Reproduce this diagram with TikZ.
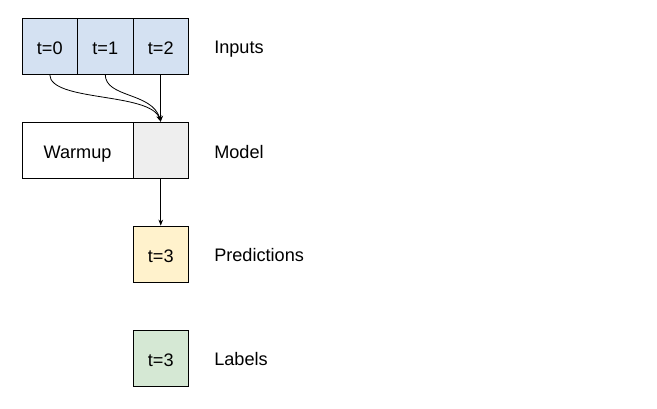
\documentclass[tikz,border=0pt]{standalone}
\usepackage{fontspec}
\setmainfont{Liberation Sans}
\usetikzlibrary{arrows.meta}
\definecolor{inblue}{HTML}{D4E1F2}
\definecolor{predyel}{HTML}{FFF2CC}
\definecolor{labgreen}{HTML}{D5E8D4}
\definecolor{modgray}{HTML}{EEEEEE}
\begin{document}
\begin{tikzpicture}[x=0.75pt,y=-0.75pt,
  txt/.style={font=\fontsize{13.6}{15}\selectfont,text height=12.6pt,text depth=0pt},
  cell/.style={txt,draw=black,line width=0.6pt,minimum width=55.5*0.75pt,minimum height=56*0.75pt,inner sep=0pt},
  sidelabel/.style={txt,anchor=west,inner sep=0pt},
  conn/.style={line width=0.6pt,-{Stealth[length=4.5pt,width=3.5pt]}}]
\useasboundingbox (0,0) rectangle (657,408);
\node[cell,fill=inblue] (t0) at (49.75,46) {t=0};
\node[cell,fill=inblue] (t1) at (105.25,46) {t=1};
\node[cell,fill=inblue] (t2) at (160.75,46) {t=2};
\node[cell,fill=white,minimum width=111*0.75pt] (warm) at (77.5,150) {Warmup};
\node[cell,fill=modgray] (model) at (160.75,150) {};
\node[cell,fill=predyel] (pred) at (160.75,254) {t=3};
\node[cell,fill=labgreen] (lab) at (160.75,358) {t=3};
\node[sidelabel] (linp) at (214,45) {Inputs};
\node[sidelabel] (lmod) at (214,150) {Model};
\node[sidelabel] (lpred) at (214,253) {Predictions};
\node[sidelabel] (llab) at (214,357) {Labels};
\draw[conn] (t0.south) .. controls (49.75,102) and (150,92) .. (model.north);
\draw[conn] (t1.south) .. controls (105.25,98) and (152,92) .. (model.north);
\draw[conn] (t2.south) -- (model.north);
\draw[conn] (model.south) -- (pred.north);
\end{tikzpicture}
\end{document}
